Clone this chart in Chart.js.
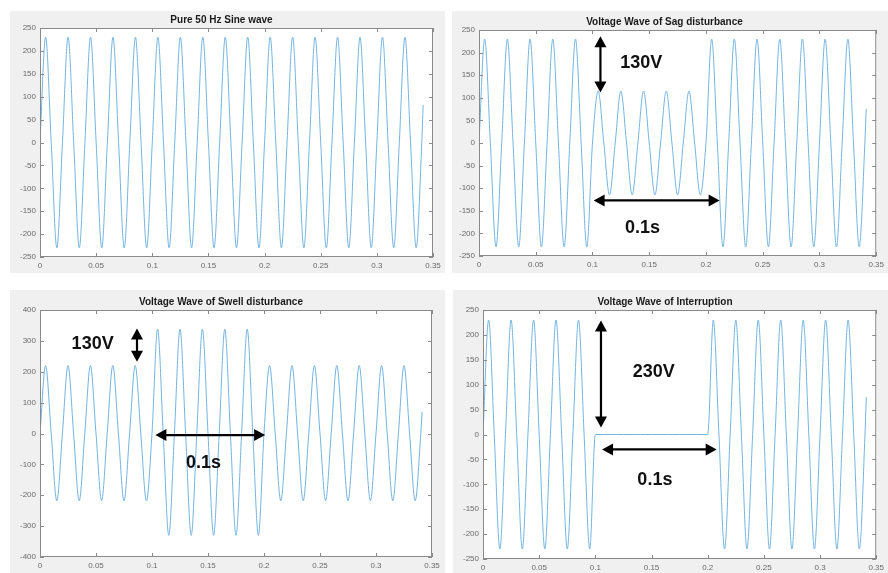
<!DOCTYPE html>
<html lang="en">
<head>
<meta charset="UTF-8">
<title>Voltage disturbance waveforms</title>
<style>
    body {
        margin: 0;
        background: #fff;
        width: 888px;
        height: 573px;
        position: relative;
        overflow: hidden;
        font-family: Arial, "Liberation Sans", sans-serif;
    }
    .panel {
        position: absolute;
        background: #f0f0f0;
    }
    .panel canvas {
        display: block;
    }
</style>
<script src="https://cdn.jsdelivr.net/npm/chart.js"></script>
</head>
<body>
<div class="panel" style="left:10px;top:11px;"><canvas id="pureChart" width="435" height="262"></canvas></div>
<div class="panel" style="left:452px;top:11px;"><canvas id="sagChart" width="436" height="262"></canvas></div>
<div class="panel" style="left:10px;top:290px;"><canvas id="swellChart" width="435" height="283"></canvas></div>
<div class="panel" style="left:453px;top:290px;"><canvas id="interChart" width="435" height="283"></canvas></div>

<script>
// sample times (s): zero crossings and peaks of the 50 Hz wave
const timeS = [
    0, 0.005, 0.01, 0.015, 0.02, 0.025, 0.03, 0.035, 0.04, 0.045,
    0.05, 0.055, 0.06, 0.065, 0.07, 0.075, 0.08, 0.085, 0.09, 0.095,
    0.1, 0.105, 0.11, 0.115, 0.12, 0.125, 0.13, 0.135, 0.14, 0.145,
    0.15, 0.155, 0.16, 0.165, 0.17, 0.175, 0.18, 0.185, 0.19, 0.195,
    0.2, 0.205, 0.21, 0.215, 0.22, 0.225, 0.23, 0.235, 0.24, 0.245,
    0.25, 0.255, 0.26, 0.265, 0.27, 0.275, 0.28, 0.285, 0.29, 0.295,
    0.3, 0.305, 0.31, 0.315, 0.32, 0.325, 0.33, 0.335, 0.34, 0.3412
];

const pureV = [
    0, 230, 0, -230, 0, 230, 0, -230, 0, 230, 0, -230, 0, 230, 0, -230, 0, 230, 0, -230,
    0, 230, 0, -230, 0, 230, 0, -230, 0, 230, 0, -230, 0, 230, 0, -230, 0, 230, 0, -230,
    0, 230, 0, -230, 0, 230, 0, -230, 0, 230, 0, -230, 0, 230, 0, -230, 0, 230, 0, -230,
    0, 230, 0, -230, 0, 230, 0, -230, 0, 82
];

const sagV = [
    0, 230, 0, -230, 0, 230, 0, -230, 0, 230, 0, -230, 0, 230, 0, -230, 0, 230, 0, -230,
    0, 115, 0, -115, 0, 115, 0, -115, 0, 115, 0, -115, 0, 115, 0, -115, 0, 115, 0, -115,
    0, 230, 0, -230, 0, 230, 0, -230, 0, 230, 0, -230, 0, 230, 0, -230, 0, 230, 0, -230,
    0, 230, 0, -230, 0, 230, 0, -230, 0, 75
];

const swellV = [
    0, 220, 0, -218, 0, 220, 0, -218, 0, 220, 0, -218, 0, 220, 0, -218, 0, 220, 0, -218,
    0, 338, 0, -330, 0, 338, 0, -330, 0, 338, 0, -330, 0, 338, 0, -330, 0, 338, 0, -330,
    0, 220, 0, -218, 0, 220, 0, -218, 0, 220, 0, -218, 0, 220, 0, -218, 0, 220, 0, -218,
    0, 220, 0, -218, 0, 220, 0, -218, 0, 70
];

const interruptV = [
    0, 230, 0, -230, 0, 230, 0, -230, 0, 230, 0, -230, 0, 230, 0, -230, 0, 230, 0, -230,
    0, 0, 0, 0, 0, 0, 0, 0, 0, 0, 0, 0, 0, 0, 0, 0, 0, 0, 0, 0,
    0, 230, 0, -230, 0, 230, 0, -230, 0, 230, 0, -230, 0, 230, 0, -230, 0, 230, 0, -230,
    0, 230, 0, -230, 0, 230, 0, -230, 0, 75
];

const xTicks = [0, 0.05, 0.1, 0.15, 0.2, 0.25, 0.3, 0.35];

const tickFont = { family: "Arial, 'Liberation Sans', sans-serif", size: 8 };
const noteFont = "bold 18px Arial, 'Liberation Sans', sans-serif";

function drawHead(ctx, x, y, dx, dy) {
    const hl = 11, hw = 6;
    ctx.beginPath();
    ctx.moveTo(x, y);
    ctx.lineTo(x - dx * hl - dy * hw, y - dy * hl + dx * hw);
    ctx.lineTo(x - dx * hl + dy * hw, y - dy * hl - dx * hw);
    ctx.closePath();
    ctx.fill();
}

function drawArrow(ctx, x1, y1, x2, y2) {
    const len = Math.hypot(x2 - x1, y2 - y1);
    const dx = (x2 - x1) / len, dy = (y2 - y1) / len;
    ctx.beginPath();
    ctx.moveTo(x1 + dx * 8, y1 + dy * 8);
    ctx.lineTo(x2 - dx * 8, y2 - dy * 8);
    ctx.stroke();
    drawHead(ctx, x2, y2, dx, dy);
    drawHead(ctx, x1, y1, -dx, -dy);
}

// white axes area, box with inward ticks, and the arrow/text notes
function matlabBox(notes) {
    return {
        id: 'matlabBox',
        beforeDraw(chart) {
            const { ctx, chartArea: a } = chart;
            ctx.save();
            ctx.fillStyle = '#ffffff';
            ctx.fillRect(a.left, a.top, a.right - a.left, a.bottom - a.top);
            ctx.restore();
        },
        afterDatasetsDraw(chart) {
            const { ctx, chartArea: a, scales } = chart;
            const xs = scales.x, ys = scales.y;
            ctx.save();
            ctx.strokeStyle = '#8a8a8a';
            ctx.lineWidth = 1;
            ctx.strokeRect(a.left + 0.5, a.top + 0.5, a.right - a.left - 1, a.bottom - a.top - 1);
            ctx.beginPath();
            xs.ticks.forEach(t => {
                const px = Math.round(xs.getPixelForValue(t.value)) + 0.5;
                ctx.moveTo(px, a.bottom); ctx.lineTo(px, a.bottom - 4);
                ctx.moveTo(px, a.top); ctx.lineTo(px, a.top + 4);
            });
            ys.ticks.forEach(t => {
                const py = Math.round(ys.getPixelForValue(t.value)) + 0.5;
                ctx.moveTo(a.left, py); ctx.lineTo(a.left + 4, py);
                ctx.moveTo(a.right, py); ctx.lineTo(a.right - 4, py);
            });
            ctx.stroke();

            ctx.strokeStyle = '#000';
            ctx.fillStyle = '#000';
            ctx.lineWidth = 2.2;
            notes.arrows.forEach(n => {
                drawArrow(ctx,
                    xs.getPixelForValue(n.x1), ys.getPixelForValue(n.y1),
                    xs.getPixelForValue(n.x2), ys.getPixelForValue(n.y2));
            });
            ctx.font = noteFont;
            ctx.fillStyle = '#111';
            ctx.textAlign = 'center';
            ctx.textBaseline = 'middle';
            notes.labels.forEach(n => {
                ctx.fillText(n.text, xs.getPixelForValue(n.x), ys.getPixelForValue(n.y));
            });
            ctx.restore();
        }
    };
}

function makeChart(id, title, values, yMin, yMax, yStep, axisW, axisH, padTop, padRight, notes) {
    const ctx = document.getElementById(id).getContext('2d');
    return new Chart(ctx, {
        type: 'line',
        data: {
            datasets: [{
                data: timeS.map((t, i) => ({ x: t, y: values[i] })),
                borderColor: '#74b4e0',
                borderWidth: 1,
                pointRadius: 0,
                cubicInterpolationMode: 'monotone',
                fill: false
            }]
        },
        options: {
            responsive: false,
            animation: false,
            devicePixelRatio: 1,
            layout: { padding: { left: 0, right: padRight, top: 0, bottom: 0 } },
            plugins: {
                legend: { display: false },
                tooltip: { enabled: false },
                title: {
                    display: true,
                    text: title,
                    color: '#1a1a1a',
                    font: { family: "Arial, 'Liberation Sans', sans-serif", size: 10, weight: 'bold' },
                    padding: { top: padTop, bottom: 2 }
                }
            },
            scales: {
                x: {
                    type: 'linear',
                    min: 0,
                    max: 0.35,
                    afterBuildTicks: s => { s.ticks = xTicks.map(v => ({ value: v })); },
                    afterFit: s => { s.height = axisH; },
                    grid: { display: false, drawTicks: false },
                    border: { display: false },
                    ticks: {
                        color: '#6a6a6a',
                        font: tickFont,
                        padding: 4,
                        maxRotation: 0,
                        autoSkip: false,
                        callback: v => String(+v.toFixed(2))
                    }
                },
                y: {
                    min: yMin,
                    max: yMax,
                    afterFit: s => { s.width = axisW; },
                    grid: { display: false, drawTicks: false },
                    border: { display: false },
                    ticks: {
                        stepSize: yStep,
                        color: '#6a6a6a',
                        font: tickFont,
                        padding: 4
                    }
                }
            }
        },
        plugins: [matlabBox(notes)]
    });
}

makeChart('pureChart', 'Pure 50 Hz Sine wave', pureV, -250, 250, 50, 30, 16, 3, 12,
    { arrows: [], labels: [] });

makeChart('sagChart', 'Voltage Wave of Sag disturbance', sagV, -250, 250, 50, 27, 17, 5, 11, {
    arrows: [
        { x1: 0.107, y1: 236, x2: 0.107, y2: 112 },
        { x1: 0.101, y1: -127, x2: 0.212, y2: -127 }
    ],
    labels: [
        { text: '130V', x: 0.143, y: 178 },
        { text: '0.1s', x: 0.144, y: -189 }
    ]
});

makeChart('swellChart', 'Voltage Wave of Swell disturbance', swellV, -400, 400, 100, 30, 16, 6, 13, {
    arrows: [
        { x1: 0.0866, y1: 340, x2: 0.0866, y2: 232 },
        { x1: 0.103, y1: -5, x2: 0.201, y2: -5 }
    ],
    labels: [
        { text: '130V', x: 0.047, y: 290 },
        { text: '0.1s', x: 0.146, y: -97 }
    ]
});

makeChart('interChart', 'Voltage Wave of Interruption', interruptV, -250, 250, 50, 30, 14, 6, 11, {
    arrows: [
        { x1: 0.105, y1: 229, x2: 0.105, y2: 14 },
        { x1: 0.106, y1: -30, x2: 0.208, y2: -30 }
    ],
    labels: [
        { text: '230V', x: 0.152, y: 126 },
        { text: '0.1s', x: 0.153, y: -92 }
    ]
});
</script>
</body>
</html>
